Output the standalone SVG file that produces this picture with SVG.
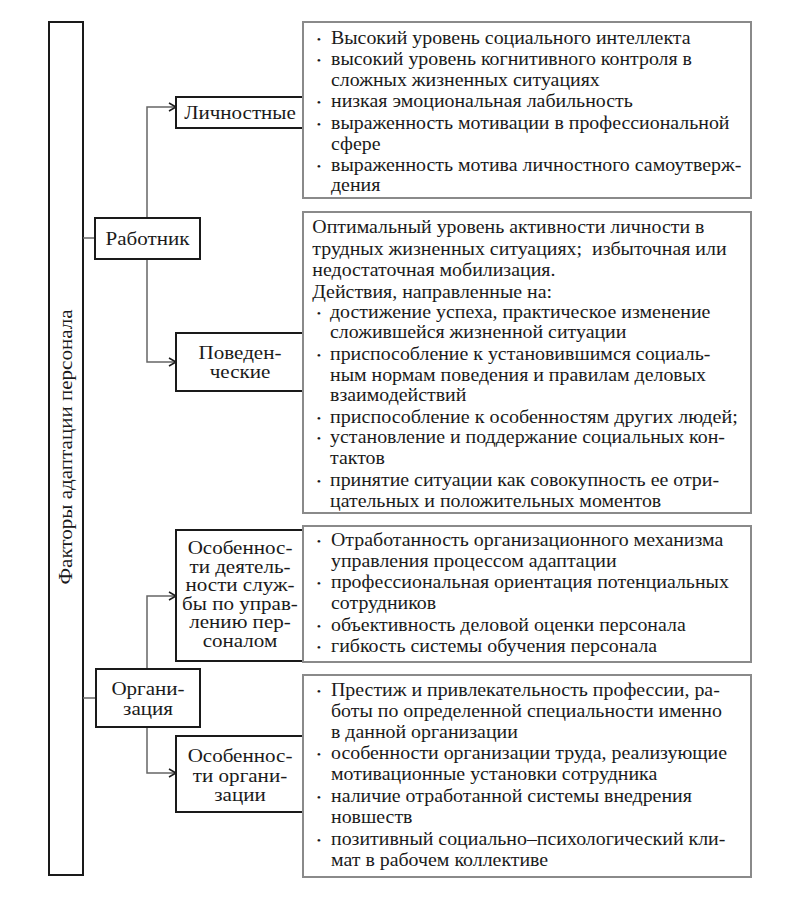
<svg xmlns="http://www.w3.org/2000/svg" width="791" height="897" viewBox="0 0 791 897">
<style>
text{font-family:"Liberation Serif","Times New Roman",serif;fill:#1a1a1a}
.t{font-size:18px}
.n{font-size:18px;text-anchor:middle}
.b{font-size:11px}
.node{fill:#fff;stroke:#1a1a1a;stroke-width:2}
.list{fill:#fff;stroke:#8a8a8a;stroke-width:2}
.c{fill:none;stroke:#666;stroke-width:1.5}
</style>
<defs>
<marker id="ar" markerWidth="10" markerHeight="10" refX="8" refY="5" orient="auto" markerUnits="userSpaceOnUse">
<path d="M1,1 L8,5 L1,9" fill="none" stroke="#1a1a1a" stroke-width="1.5"/>
</marker>
</defs>
<rect width="791" height="897" fill="#fff"/>

<g id="root">
<rect class="node" x="49" y="22" width="34" height="853"/>
<text class="n" transform="translate(72,447) rotate(-90) scale(1.17,1)">Факторы адаптации персонала</text>
</g>

<g id="connectors">
<path class="c" d="M83,238 H95"/>
<path class="c" d="M147,218 V107 H176" marker-end="url(#ar)"/>
<path class="c" d="M147,259 V362 H176" marker-end="url(#ar)"/>
<path class="c" d="M83,698 H96"/>
<path class="c" d="M147,669 V596 H176" marker-end="url(#ar)"/>
<path class="c" d="M147,727 V773 H176" marker-end="url(#ar)"/>
</g>

<g id="rabotnik">
<rect class="node" x="95" y="218" width="105" height="41"/>
<g transform="translate(147.5,0) scale(1.17,1)"><text class="n" x="0" y="245">Работник</text></g>
</g>

<g id="lichnostnye">
<rect class="node" x="176" y="97" width="128" height="31"/>
<g transform="translate(240,0) scale(1.17,1)"><text class="n" x="0" y="119">Личностные</text></g>
</g>

<g id="povedencheskie">
<rect class="node" x="176" y="333" width="128" height="58"/>
<g transform="translate(240,0) scale(1.17,1)">
<text class="n" x="0" y="359">Поведен-</text>
<text class="n" x="0" y="378">ческие</text>
</g>
</g>

<g id="organizatsiya">
<rect class="node" x="96" y="669" width="104" height="58"/>
<g transform="translate(148,0) scale(1.17,1)">
<text class="n" x="0" y="695">Органи-</text>
<text class="n" x="0" y="715">зация</text>
</g>
</g>

<g id="osob-deyat">
<rect class="node" x="176" y="530" width="128" height="131"/>
<g transform="translate(240,0) scale(1.17,1)">
<text class="n" x="0" y="554">Особеннос-</text>
<text class="n" x="0" y="573">ти деятель-</text>
<text class="n" x="0" y="591">ности служ-</text>
<text class="n" x="0" y="610">бы по управ-</text>
<text class="n" x="0" y="628">лению пер-</text>
<text class="n" x="0" y="647">соналом</text>
</g>
</g>

<g id="osob-org">
<rect class="node" x="176" y="736" width="128" height="76"/>
<g transform="translate(240,0) scale(1.17,1)">
<text class="n" x="0" y="762">Особеннос-</text>
<text class="n" x="0" y="782">ти органи-</text>
<text class="n" x="0" y="801">зации</text>
</g>
</g>

<g id="list-lichn">
<rect class="list" x="303" y="22" width="448" height="176"/>
<g transform="translate(331,0) scale(1.105,1)">
<text class="b" x="-13" y="43">•</text><text class="t" x="0" y="44">Высокий уровень социального интеллекта</text>
<text class="b" x="-13" y="64">•</text><text class="t" x="0" y="65">высокий уровень когнитивного контроля в</text>
<text class="t" x="0" y="86">сложных жизненных ситуациях</text>
<text class="b" x="-13" y="106">•</text><text class="t" x="0" y="107">низкая эмоциональная лабильность</text>
<text class="b" x="-13" y="128">•</text><text class="t" x="0" y="129">выраженность мотивации в профессиональной</text>
<text class="t" x="0" y="150">сфере</text>
<text class="b" x="-13" y="170">•</text><text class="t" x="0" y="171">выраженность мотива личностного самоутверж-</text>
<text class="t" x="0" y="191">дения</text>
</g>
</g>

<g id="list-poved">
<rect class="list" x="303" y="212" width="448" height="301"/>
<g transform="translate(330,0) scale(1.105,1)">
<text class="t" x="-16" y="233">Оптимальный уровень активности личности в</text>
<text class="t" x="-16" y="255">трудных жизненных ситуациях;&#160; избыточная или</text>
<text class="t" x="-16" y="276">недостаточная мобилизация.</text>
<text class="t" x="-16" y="298">Действия, направленные на:</text>
<text class="b" x="-12" y="317">•</text><text class="t" x="0" y="318">достижение успеха, практическое изменение</text>
<text class="t" x="0" y="338">сложившейся жизненной ситуации</text>
<text class="b" x="-12" y="359">•</text><text class="t" x="0" y="360">приспособление к установившимся социаль-</text>
<text class="t" x="0" y="381">ным нормам поведения и правилам деловых</text>
<text class="t" x="0" y="401">взаимодействий</text>
<text class="b" x="-12" y="422">•</text><text class="t" x="0" y="423" textLength="369" lengthAdjust="spacingAndGlyphs">приспособление к особенностям других людей;</text>
<text class="b" x="-12" y="442">•</text><text class="t" x="0" y="443">установление и поддержание социальных кон-</text>
<text class="t" x="0" y="464">тактов</text>
<text class="b" x="-12" y="485">•</text><text class="t" x="0" y="486">принятие ситуации как совокупность ее отри-</text>
<text class="t" x="0" y="507">цательных и положительных моментов</text>
</g>
</g>

<g id="list-sluzhba">
<rect class="list" x="303" y="526" width="448" height="136"/>
<g transform="translate(331,0) scale(1.105,1)">
<text class="b" x="-13" y="545">•</text><text class="t" x="0" y="546">Отработанность организационного механизма</text>
<text class="t" x="0" y="567">управления процессом адаптации</text>
<text class="b" x="-13" y="587">•</text><text class="t" x="0" y="588">профессиональная ориентация потенциальных</text>
<text class="t" x="0" y="609">сотрудников</text>
<text class="b" x="-13" y="630">•</text><text class="t" x="0" y="631">объективность деловой оценки персонала</text>
<text class="b" x="-13" y="651">•</text><text class="t" x="0" y="652">гибкость системы обучения персонала</text>
</g>
</g>

<g id="list-org">
<rect class="list" x="303" y="675" width="448" height="202"/>
<g transform="translate(331,0) scale(1.105,1)">
<text class="b" x="-13" y="695">•</text><text class="t" x="0" y="696">Престиж и привлекательность профессии, ра-</text>
<text class="t" x="0" y="717">боты по определенной специальности именно</text>
<text class="t" x="0" y="738">в данной организации</text>
<text class="b" x="-13" y="758">•</text><text class="t" x="0" y="759">особенности организации труда, реализующие</text>
<text class="t" x="0" y="780">мотивационные установки сотрудника</text>
<text class="b" x="-13" y="801">•</text><text class="t" x="0" y="802">наличие отработанной системы внедрения</text>
<text class="t" x="0" y="823">новшеств</text>
<text class="b" x="-13" y="844">•</text><text class="t" x="0" y="845">позитивный социально–психологический кли-</text>
<text class="t" x="0" y="866">мат в рабочем коллективе</text>
</g>
</g>
</svg>
